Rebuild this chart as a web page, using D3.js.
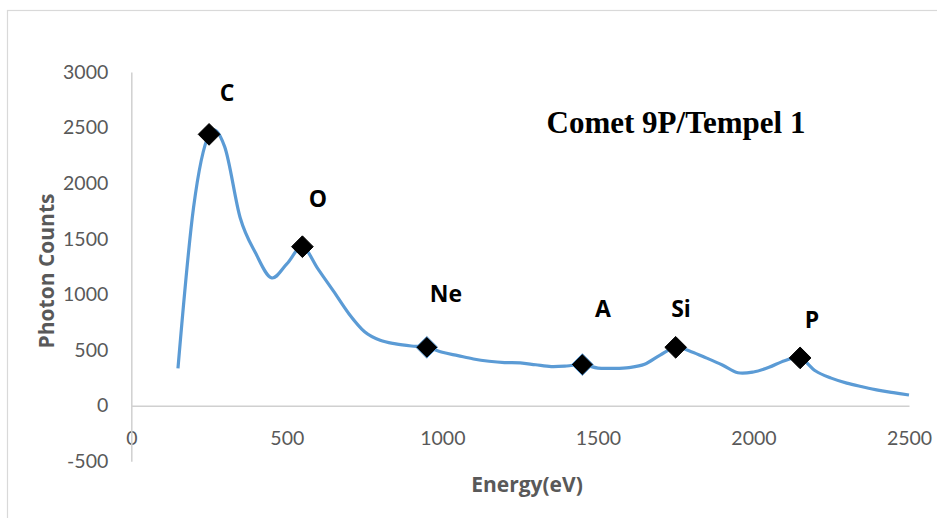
<!DOCTYPE html>
<html>
<head>
<meta charset="utf-8">
<script src="https://cdn.jsdelivr.net/npm/d3@7"></script>
<style>
  html, body { margin: 0; padding: 0; background: #fff; }
  svg { display: block; }
</style>
</head>
<body>
<svg id="chart" width="937" height="518"></svg>
<script>
// Spectrum samples: energy (eV) and photon counts
const energy = [150, 200, 250, 300, 350, 400, 450, 500, 550, 600, 650, 700, 750, 800, 850, 900,
  950, 1000, 1050, 1100, 1150, 1200, 1250, 1300, 1350, 1400, 1450, 1500, 1550, 1600, 1650, 1700,
  1750, 1800, 1850, 1900, 1950, 2000, 2050, 2100, 2150, 2200, 2250, 2300, 2350, 2400, 2450, 2500];
const counts = [335, 1780, 2440, 2330, 1690, 1370, 1150, 1275, 1430, 1230, 1030, 825, 665, 588, 556, 537,
  525, 480, 450, 420, 400, 388, 385, 368, 352, 357, 370, 338, 336, 343, 372, 455,
  525, 486, 428, 366, 296, 303, 345, 405, 430, 312, 248, 203, 170, 140, 118, 96];

// Emission lines marked on the spectrum
const lineNames = ["C", "O", "Ne", "A", "Si", "P"];
const lineEnergy = [250, 550, 950, 1450, 1750, 2150];
const lineCounts = [2440, 1430, 525, 370, 525, 430];

const xTicks = [0, 500, 1000, 1500, 2000, 2500];
const yTicks = [-500, 0, 500, 1000, 1500, 2000, 2500, 3000];

const svg = d3.select("#chart");
const calibri = "Lato, 'Open Sans', sans-serif";
const calibriBold = "'Open Sans', Lato, sans-serif";

// chart area border
svg.append("rect")
  .attr("x", 7.5).attr("y", 10.5)
  .attr("width", 940).attr("height", 520)
  .attr("fill", "none").attr("stroke", "#d9d9d9").attr("stroke-width", 1.2);

const x = d3.scaleLinear().domain([0, 2500]).range([131.3, 909]);
const y = d3.scaleLinear().domain([-500, 3000]).range([461.3, 72.1]);

// axes: lines only, no tick marks
const xAxis = svg.append("g").attr("transform", `translate(0,${y(0)})`)
  .call(d3.axisBottom(x).tickValues(xTicks).tickSize(0).tickPadding(25).tickFormat(d => String(d)));
xAxis.select(".domain").attr("stroke", "#d0d0d0").attr("stroke-width", 1.5);
xAxis.selectAll("text").attr("font-family", calibri).attr("font-size", 19.5).attr("fill", "#595959");

const yAxis = svg.append("g").attr("transform", `translate(${x(0)},0)`)
  .call(d3.axisLeft(y).tickValues(yTicks).tickSize(0).tickPadding(23).tickFormat(d => String(d)));
yAxis.select(".domain").attr("stroke", "#d0d0d0").attr("stroke-width", 1.5);
yAxis.selectAll("text").attr("font-family", calibri).attr("font-size", 19.5).attr("fill", "#595959");

// smoothed spectrum
const pts = energy.map((e, i) => [e, counts[i]]);
svg.append("path")
  .datum(pts)
  .attr("fill", "none")
  .attr("stroke", "#5b9bd5")
  .attr("stroke-width", 3.2)
  .attr("d", d3.line().x(d => x(d[0])).y(d => y(d[1])).curve(d3.curveCatmullRom.alpha(0)));

// diamond markers for the emission lines
const diamond = d3.symbol().type(d3.symbolDiamond2).size(300);
svg.append("g").selectAll("path")
  .data(lineEnergy.map((e, i) => ({ e, c: lineCounts[i], name: lineNames[i] })))
  .join("path")
  .attr("transform", d => `translate(${x(d.e)},${y(d.c)})`)
  .attr("d", diamond)
  .attr("fill", "#000")
  .attr("stroke", d => (d.name === "Ne" || d.name === "A") ? "#5b9bd5" : "#000")
  .attr("stroke-width", 1);

// element labels above the peaks
const labelPos = {
  C: [227, 101], O: [318, 207], Ne: [446, 302], A: [603, 317], Si: [681, 317], P: [812, 328]
};
svg.append("g").selectAll("text")
  .data(lineNames)
  .join("text")
  .attr("x", d => labelPos[d][0])
  .attr("y", d => labelPos[d][1])
  .attr("text-anchor", "middle")
  .attr("font-family", calibriBold)
  .attr("font-weight", "bold")
  .attr("font-size", 23)
  .attr("fill", "#000")
  .text(d => d);

// title
svg.append("text")
  .attr("x", 676).attr("y", 133)
  .attr("text-anchor", "middle")
  .attr("font-family", "'Liberation Serif', 'Times New Roman', serif")
  .attr("font-weight", "bold")
  .attr("font-size", 31)
  .attr("fill", "#000")
  .text("Comet 9P/Tempel 1");

// axis titles
svg.append("text")
  .attr("transform", "translate(54,271) rotate(-90)")
  .attr("text-anchor", "middle")
  .attr("font-family", calibriBold)
  .attr("font-weight", "bold")
  .attr("font-size", 21)
  .attr("fill", "#595959")
  .text("Photon Counts");

svg.append("text")
  .attr("x", 527).attr("y", 492)
  .attr("text-anchor", "middle")
  .attr("font-family", calibriBold)
  .attr("font-weight", "bold")
  .attr("font-size", 21)
  .attr("fill", "#595959")
  .text("Energy(eV)");
</script>
</body>
</html>
